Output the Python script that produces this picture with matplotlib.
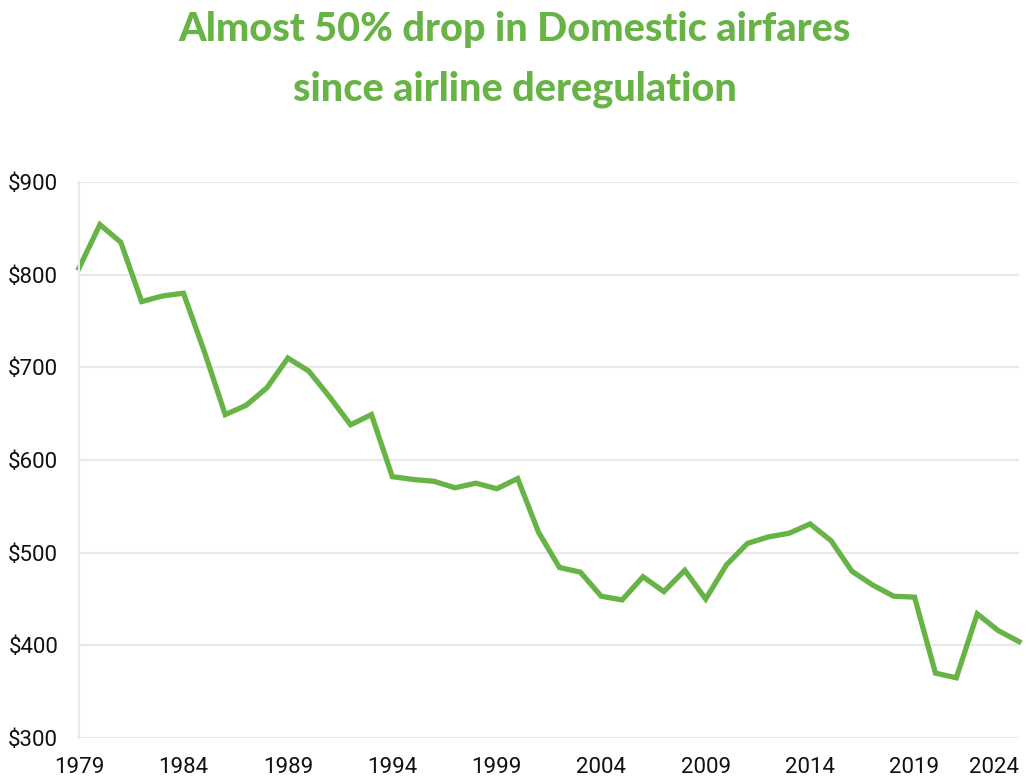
import matplotlib.pyplot as plt
import numpy as np

years = list(range(1979, 2025))
fares = [807, 854, 835, 771, 777, 780, 717, 649, 659, 678,
         710, 696, 668, 638, 649, 582, 579, 577, 570, 575,
         569, 580, 522, 484, 479, 453, 449, 474, 458, 481,
         450, 487, 510, 517, 521, 531, 513, 480, 465, 453,
         452, 370, 365, 434, 416, 404]
xticks = [1979, 1984, 1989, 1994, 1999, 2004, 2009, 2014, 2019, 2024]
yticks = [300, 400, 500, 600, 700, 800, 900]

green = "#67B346"
plt.rcParams['font.family'] = ['Roboto', 'DejaVu Sans']

fig = plt.figure(figsize=(10.3, 7.82), dpi=100)
ax = fig.add_axes([79 / 1030, 1 - 738 / 782, (1019 - 79) / 1030, (738 - 182) / 782])

ax.plot(years, fares, color=green, lw=3.8, solid_joinstyle="miter", clip_on=False)

ax.set_xlim(1979, 2024)
ax.set_ylim(300, 900)
ax.set_xticks(xticks)
ax.set_yticks(yticks)
ax.set_yticklabels([f"${v}" for v in yticks])
ax.tick_params(axis="both", length=0, labelsize=16, colors="#111111")
ax.tick_params(axis="y", pad=15)
ax.tick_params(axis="x", pad=14)
ax.get_xticklabels()[-1].set_ha("right")

ax.grid(axis="y", color="#e8e8e8", lw=1.5)
ax.set_axisbelow(True)
for s in ["top", "right", "bottom"]:
    ax.spines[s].set_visible(False)
ax.spines["left"].set_color("#e8e8e8")
ax.spines["left"].set_linewidth(1.5)

fig.text(0.5, 1 - 30 / 782, "Almost 50% drop in Domestic airfares", ha="center", va="center",
         fontsize=28.5, fontweight="black", color=green, family=["Lato", "DejaVu Sans"])
fig.text(0.5, 1 - 89 / 782, "since airline deregulation", ha="center", va="center",
         fontsize=28.5, fontweight="black", color=green, family=["Lato", "DejaVu Sans"])

fig.savefig("out.png", dpi=100)
